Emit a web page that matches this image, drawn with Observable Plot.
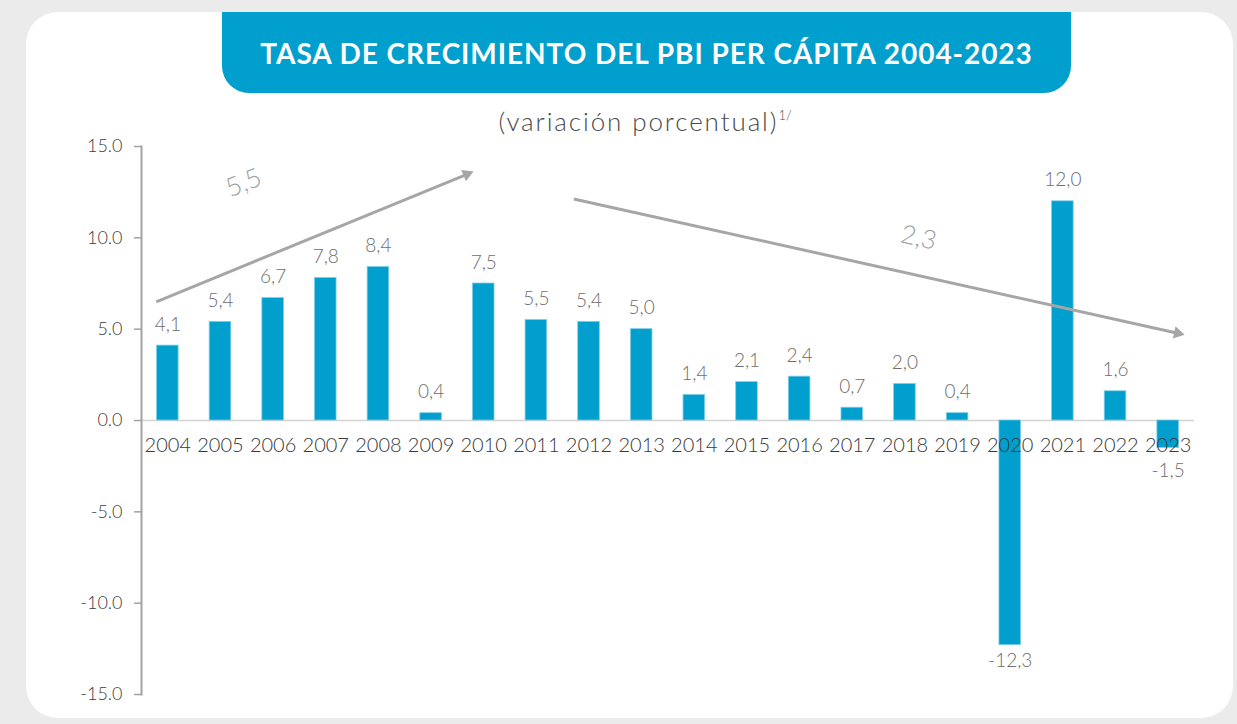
<!DOCTYPE html>
<html>
<head>
<meta charset="utf-8">
<script src="https://cdn.jsdelivr.net/npm/d3@7"></script>
<script src="https://cdn.jsdelivr.net/npm/@observablehq/plot@0.6"></script>
<style>
  html, body { margin: 0; padding: 0; }
  body { width: 1237px; height: 724px; background: #ebebeb; position: relative; overflow: hidden; font-family: Lato, "Open Sans", sans-serif; }
  #panel { position: absolute; left: 26px; top: 12px; width: 1207px; height: 706px; background: #fff; border-radius: 32px; }
  #banner { position: absolute; left: 222px; top: 12px; width: 849px; height: 81px; background: #009fce; border-radius: 0 0 27px 27px;
            color: #fff; font-weight: 700; font-size: 28px; display: flex; align-items: center; justify-content: center; letter-spacing: 0.95px; }
  #subtitle { position: absolute; left: 0; width: 1290px; top: 105px; text-align: center; font-size: 26px; font-weight: 300; color: #4a4a4a; letter-spacing: 1.9px; }
  #subtitle sup { font-size: 13px; vertical-align: 11px; letter-spacing: 0; }
  #chart { position: absolute; left: 0; top: 130px; width: 1237px; height: 594px; }
  #chart svg { position: absolute; left: 0; top: 0; overflow: visible; }
</style>
</head>
<body>
<div id="panel"></div>
<div id="banner">TASA DE CRECIMIENTO DEL PBI PER CÁPITA 2004-2023</div>
<div id="subtitle">(variación porcentual)<sup>1/</sup></div>
<div id="chart"></div>
<script>
// ---- data ----
const years = ["2004","2005","2006","2007","2008","2009","2010","2011","2012","2013","2014","2015","2016","2017","2018","2019","2020","2021","2022","2023"];
const values = [4.1, 5.4, 6.7, 7.8, 8.4, 0.4, 7.5, 5.5, 5.4, 5.0, 1.4, 2.1, 2.4, 0.7, 2.0, 0.4, -12.3, 12.0, 1.6, -1.5];
const yTicks = [-15, -10, -5, 0, 5, 10, 15];
// trend annotations (in data units: year, percent)
const trendLabels = ["5,5", "2,3"];
const trendStartYear = [2003.78, 2011.71];
const trendStartValue = [6.5, 12.13];
const trendEndYear = [2009.68, 2023.18];
const trendEndValue = [13.48, 4.78];
const trendLabelYear = [2005.44, 2018.26];
const trendLabelValue = [13.0, 10.0];

const data = years.map((year, i) => ({year, value: values[i]}));
const trends = trendLabels.map((label, i) => ({
  label, x1: trendStartYear[i], y1: trendStartValue[i], x2: trendEndYear[i], y2: trendEndValue[i],
  lx: trendLabelYear[i], ly: trendLabelValue[i]
}));
const fmt = v => v.toFixed(1).replace(".", ",");

const W = 1237, H = 594;
const common = {
  width: W, height: H,
  marginLeft: 141, marginRight: 43, marginTop: 16, marginBottom: 30,
  style: {background: "transparent", fontFamily: "Lato, 'Open Sans', sans-serif"}
};

const labelStyle = {x: "year", y: "value", text: d => fmt(d.value), fontSize: 19, fill: "#6e6e6e", fontWeight: 300};

const main = Plot.plot({
  ...common,
  x: {type: "band", domain: years, paddingInner: 0.59, paddingOuter: 0.295, round: false, axis: null},
  y: {domain: [-15, 15], axis: null},
  marks: [
    Plot.ruleY([0], {stroke: "#d3d3d3", strokeWidth: 1.5}),
    Plot.frame({anchor: "left", stroke: "#a3a3a3", strokeWidth: 2}),
    Plot.axisY({ticks: yTicks, tickSize: 7, tickFormat: () => "", label: null, color: "#a3a3a3", strokeWidth: 1.5}),
    Plot.axisY({ticks: yTicks, tickSize: 0, tickPadding: 19, tickFormat: d => d.toFixed(1), label: null, color: "#3c3c3c", fontSize: 18, fontWeight: 300}),
    Plot.barY(data, {x: "year", y: "value", fill: "#009fce", stroke: "#7fcde6", strokeWidth: 0.8}),
    Plot.text(data, {x: "year", y: 0, text: "year", dy: 25, fontSize: 20, fill: "#383838", fontWeight: 300}),
    Plot.text(data.filter(d => d.value >= 0), {...labelStyle, dy: -21}),
    Plot.text(data.filter(d => d.value < 0 && d.value > -5), {...labelStyle, dy: 23}),
    Plot.text(data.filter(d => d.value <= -5), {...labelStyle, dy: 16})
  ]
});

const overlay = Plot.plot({
  ...common,
  x: {type: "linear", domain: [2003.5, 2023.5], axis: null},
  y: {domain: [-15, 15], axis: null},
  marks: [
    Plot.link(trends, {x1: "x1", y1: "y1", x2: "x2", y2: "y2", stroke: "#a6a6a6", strokeWidth: 3}),
    Plot.dot(trends, {x: "x2", y: "y2", symbol: "triangle", r: 4.6, fill: "#a6a6a6", stroke: "none",
      rotate: d => Math.atan2((d.x2 - d.x1) * 52.65, (d.y2 - d.y1) * 18.29) * 180 / Math.PI}),
    Plot.text(trends.slice(0, 1), {x: "lx", y: "ly", text: "label", rotate: -22, fontSize: 26, fontWeight: 300, fill: "#a0a0a0"}),
    Plot.text(trends.slice(1), {x: "lx", y: "ly", text: "label", rotate: 13, fontSize: 26, fontWeight: 300, fill: "#a0a0a0"})
  ]
});

document.getElementById("chart").append(main, overlay);
</script>
</body>
</html>
